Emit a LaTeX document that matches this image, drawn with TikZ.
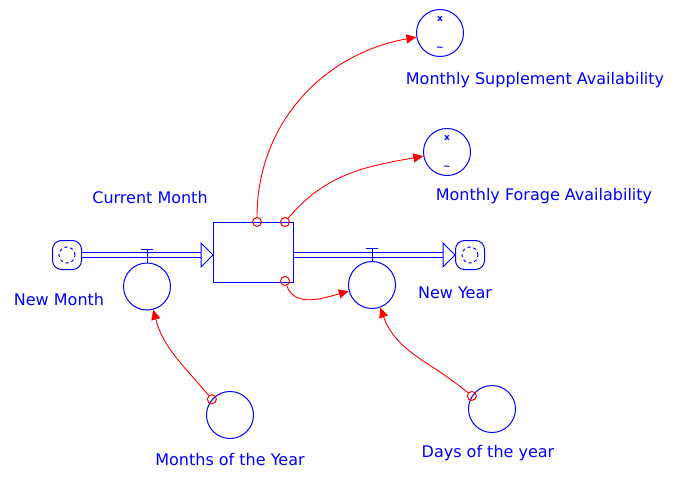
\documentclass[tikz,border=0pt]{standalone}
\usepackage{fontspec}
\setmainfont{DejaVu Sans}
\usetikzlibrary{arrows.meta}
\begin{document}
\begin{tikzpicture}[x=1pt, y=1pt, line width=1pt, blue,
  every node/.style={font=\fontsize{16}{19}\selectfont, text=blue},
  stockbox/.style={draw=blue, minimum width=80pt, minimum height=60pt, inner sep=0pt},
  aux/.style={circle, draw=blue, minimum size=47pt, inner sep=0pt},
  cloudy/.style={draw=blue, rounded corners=9pt, minimum size=29pt, inner sep=0pt,
    path picture={\draw[blue, dash pattern=on 3pt off 3pt] (path picture bounding box.center) circle (8pt);}},
  tap/.style={circle, draw=red, minimum size=9pt, inner sep=0pt},
  link/.style={red, line width=0.9pt, -{Triangle[length=10pt, width=9pt]}},
  pipe/.style={draw=blue, double=white, double distance=4pt, line width=1pt},
  glyph/.style={font=\fontsize{9}{9}\selectfont\bfseries, inner sep=0pt}]
  \useasboundingbox (0,-477) rectangle (675,0);

  \node[cloudy] (nm) at (67,-255) {};
  \node[cloudy] (ny) at (470,-255) {};
  \node[aux] (vm) at (147,-286.5) {};
  \node[aux] (vy) at (372,-285) {};
  \node[aux] (ms) at (440,-33) {};
  \node[aux] (mf) at (447,-152) {};
  \node[aux] (my) at (230,-415) {};
  \node[aux] (dy) at (492,-409) {};

  \node[glyph] at ([yshift=-10pt]ms.north) {x};
  \node[glyph] at ([yshift=8pt]ms.south) {\textasciitilde};
  \node[glyph] at ([yshift=-10pt]mf.north) {x};
  \node[glyph] at ([yshift=8pt]mf.south) {\textasciitilde};

  \node (cml) at (150,-198) {Current Month};
  \node (nml) at (59,-300) {New Month};
  \node (nyl) at (455,-293) {New Year};
  \node (msl) at (535,-80) {Monthly Supplement Availability};
  \node (mfl) at (544,-196) {Monthly Forage Availability};
  \node (myl) at (230,-460) {Months of the Year};
  \node (dyl) at (488,-453) {Days of the year};

  % flows
  \coordinate (inhead) at (201,-255);
  \draw[pipe] (nm) -- (inhead);
  \draw[fill=white] (inhead) ++(0,12) -- ++(12,-12) -- ++(-12,-12) -- cycle;
  \coordinate (outstart) at (294,-255);
  \coordinate (outhead) at (443,-255);
  \draw[pipe] (outstart) -- (outhead);
  \draw[fill=white] (outhead) ++(0,12) -- ++(12,-12) -- ++(-12,-12) -- cycle;
  \node[stockbox] (cm) at (253,-252) {};

  % valves
  \draw (vm.north) -- ++(0,13) ++(-6,0) -- ++(12,0);
  \draw (vy.north) -- ++(0,13) ++(-6,0) -- ++(12,0);

  % links
  \node[tap] (t1) at (257,-222) {};
  \node[tap] (t2) at (285,-222) {};
  \node[tap] (t3) at (285,-281) {};
  \node[tap] (t4) at (my.139) {};
  \node[tap] (t5) at (dy.147) {};

  \draw[link] (t1) to[out=90, in=190] (ms);
  \draw[link] (t2) to[out=50, in=190] (mf);
  \draw[link] (t3) to[out=-70, in=195] (vy);
  \draw[link] (t4) to[out=130, in=-75] (vm);
  \draw[link] (t5) to[out=140, in=-70] (vy);
\end{tikzpicture}
\end{document}
